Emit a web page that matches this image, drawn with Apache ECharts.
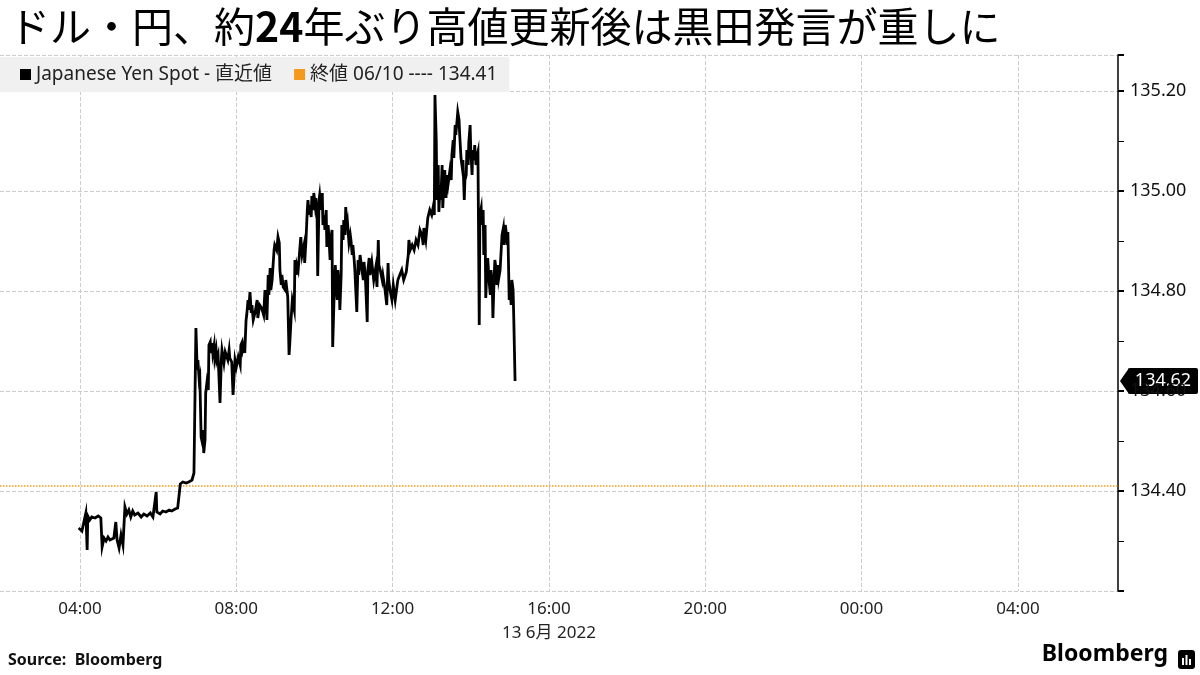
<!DOCTYPE html>
<html>
<head>
<meta charset="utf-8">
<script src="https://cdn.jsdelivr.net/npm/echarts@6/dist/echarts.min.js"></script>
<style>
html,body{margin:0;padding:0;background:#fff;}
#chart{width:1200px;height:675px;}
</style>
</head>
<body>
<div id="chart"></div>
<script>
// ---- data (minutes since 00:00 on 13 Jun 2022, USD/JPY spot) ----
const minuteOfDay = [238,243,246,249,251,252,255,258,263,268,272,274,277,280,283,286,289,292,295,297,300,303,306,309,312,315,318,321,324,329,334,338,343,348,352,357,358,363,367,372,377,381,386,390,394,398,403,407,412,415,418,420,421,423,424,426,427,429,430,432,433,435,437,438,440,441,443,444,446,447,449,450,452,455,457,458,461,463,466,467,469,470,473,475,478,480,483,486,487,489,490,492,493,495,496,498,499,501,503,504,506,509,512,513,516,519,522,524,526,527,529,530,532,533,535,538,539,542,544,546,547,549,550,552,555,556,559,561,562,564,566,569,570,572,573,575,578,579,581,584,585,587,589,590,592,593,595,596,598,599,601,602,604,605,607,608,610,612,613,615,616,618,619,621,622,624,625,627,628,630,632,633,635,636,638,639,641,642,644,645,647,648,650,651,653,655,656,658,659,661,662,665,667,668,670,673,675,676,678,681,682,684,685,688,691,694,696,698,699,701,704,705,708,711,713,714,716,719,721,724,727,728,731,734,737,741,744,745,747,750,753,756,759,762,765,767,768,771,774,777,780,782,784,785,787,788,790,791,793,794,796,797,799,800,802,803,805,808,810,811,813,814,816,817,819,820,822,823,825,827,828,830,831,833,834,836,837,839,840,842,843,845,846,848,850,851,853,854,856,857,859,860,862,863,865,866,868,870,871,873,874,876,877,879,880,882,883,885,888,890,891,893,894,896,897,899,900,902,903,905,906,908];
const prices = [134.326,134.320,134.322,134.356,134.282,134.350,134.342,134.348,134.346,134.350,134.346,134.288,134.306,134.300,134.308,134.302,134.298,134.306,134.338,134.302,134.286,134.312,134.292,134.368,134.354,134.362,134.348,134.360,134.352,134.356,134.348,134.354,134.350,134.356,134.348,134.398,134.358,134.354,134.360,134.358,134.362,134.360,134.364,134.366,134.414,134.418,134.416,134.418,134.422,134.436,134.726,134.642,134.662,134.622,134.628,134.508,134.502,134.522,134.476,134.502,134.596,134.618,134.602,134.692,134.698,134.676,134.696,134.676,134.692,134.666,134.682,134.662,134.672,134.576,134.662,134.682,134.656,134.678,134.682,134.662,134.682,134.666,134.658,134.592,134.662,134.648,134.668,134.652,134.692,134.698,134.682,134.692,134.676,134.742,134.752,134.782,134.762,134.798,134.756,134.772,134.742,134.758,134.782,134.746,134.772,134.766,134.752,134.802,134.772,134.742,134.832,134.792,134.846,134.802,134.822,134.882,134.892,134.882,134.908,134.896,134.842,134.812,134.832,134.808,134.802,134.822,134.788,134.672,134.692,134.742,134.782,134.762,134.862,134.832,134.852,134.842,134.892,134.908,134.872,134.892,134.856,134.902,134.962,134.982,134.952,134.972,134.948,134.990,134.962,134.996,134.972,134.986,134.952,134.830,134.982,134.992,134.962,134.996,134.932,134.952,134.922,134.962,134.888,134.932,134.912,134.862,134.902,134.922,134.688,134.782,134.852,134.822,134.782,134.842,134.812,134.762,134.832,134.932,134.902,134.942,134.912,134.968,134.922,134.932,134.896,134.912,134.902,134.872,134.892,134.862,134.842,134.758,134.862,134.832,134.872,134.842,134.822,134.858,134.832,134.738,134.842,134.866,134.832,134.858,134.822,134.846,134.808,134.902,134.852,134.842,134.822,134.832,134.806,134.772,134.856,134.822,134.802,134.782,134.812,134.782,134.812,134.822,134.832,134.842,134.822,134.838,134.872,134.902,134.882,134.892,134.882,134.902,134.892,134.922,134.912,134.892,134.926,134.902,134.946,134.962,134.952,134.966,134.952,135.192,135.102,134.982,135.052,134.958,135.012,134.982,135.052,134.966,135.022,135.042,134.986,135.032,135.012,135.042,135.022,135.072,135.102,135.066,135.132,135.112,135.142,135.158,135.142,135.112,135.066,135.046,135.062,134.982,135.022,135.032,135.082,135.052,135.098,135.132,135.082,135.032,135.082,135.062,135.092,135.052,135.072,135.078,134.732,134.952,134.966,134.932,134.962,134.872,134.932,134.786,134.852,134.866,134.822,134.792,134.842,134.812,134.746,134.832,134.862,134.842,134.812,134.852,134.826,134.842,134.912,134.926,134.892,134.932,134.922,134.892,134.918,134.782,134.812,134.772,134.822,134.802,134.746,134.620];
const prevClose = 134.41;
const xTickMinutes = [240,480,720,960,1200,1440,1680];
const xTickLabels = ['04:00','08:00','12:00','16:00','20:00','00:00','04:00'];
const seriesName = 'Japanese Yen Spot - 直近値';
const closeName = '終値 06/10 ---- 134.41';
const titleParts = ['ドル・円、約', '24', '年ぶり高値更新後は黒田発言が重しに'];
const dateLabel = '13 6月 2022';
const sourceText = 'Source:  Bloomberg';

const lastPrice = prices[prices.length - 1];
const FONT = '"Noto Sans", "Noto Sans CJK JP", sans-serif';
const CJK = '"Noto Sans CJK JP", "Noto Sans", sans-serif';
const X_MIN = 117.2, X_MAX = 1833.7;

const chart = echarts.init(document.getElementById('chart'), null, {renderer: 'canvas'});
const option = {
  animation: false,
  backgroundColor: '#fff',
  title: {
    text: '{a|' + titleParts[0] + '}{b|' + titleParts[1] + '}{a|' + titleParts[2] + '}',
    left: 4, top: 1,
    textStyle: {
      rich: {
        a: {fontSize: 41, fontFamily: CJK, color: '#000', fontWeight: 'normal'},
        b: {fontSize: 41, fontFamily: CJK, color: '#000', fontWeight: 'bold'}
      }
    }
  },
  legend: {
    left: 0, top: 57,
    icon: 'rect', itemWidth: 11, itemHeight: 11, itemGap: 22,
    backgroundColor: '#f0f0f0',
    padding: [8, 12, 8, 20],
    textStyle: {fontSize: 19, color: '#222', fontFamily: FONT},
    data: [seriesName, closeName],
    selectedMode: false
  },
  grid: {left: 0, right: 82, top: 55, bottom: 84, containLabel: false},
  xAxis: {
    type: 'value',
    min: X_MIN, max: X_MAX,
    axisLine: {show: false},
    axisTick: {show: false, customValues: xTickMinutes},
    axisLabel: {
      customValues: xTickMinutes,
      formatter: function (v) { const i = xTickMinutes.indexOf(v); return i >= 0 ? xTickLabels[i] : ''; },
      fontSize: 17, color: '#222', fontFamily: FONT, margin: 10
    },
    splitLine: {show: true, lineStyle: {type: 'dashed', color: '#cccccc', width: 1}}
  },
  yAxis: {
    type: 'value', position: 'right',
    min: 134.2, max: 135.272, interval: 0.2,
    axisLine: {show: true, lineStyle: {color: '#000', width: 1.5}},
    axisTick: {show: true, length: 6, lineStyle: {color: '#000', width: 2}},
    minorTick: {show: true, splitNumber: 2, length: 6, lineStyle: {color: '#000', width: 1}},
    axisLabel: {
      showMaxLabel: false,
      formatter: function (v) { return (v < 134.25 || v > 135.25) ? '' : v.toFixed(2); },
      fontSize: 18, color: '#111', fontFamily: FONT, margin: 12
    },
    splitLine: {show: true, lineStyle: {type: 'dashed', color: '#cccccc', width: 1}}
  },
  series: [
    {
      name: seriesName,
      type: 'line',
      data: minuteOfDay.map((m, i) => [m, prices[i]]),
      showSymbol: false, symbol: 'none',
      lineStyle: {color: '#000', width: 2.8, join: 'miter'},
      itemStyle: {color: '#000'},
      z: 5
    },
    {
      name: closeName,
      type: 'line',
      data: [],
      itemStyle: {color: '#f39a1e'},
      lineStyle: {color: '#f39a1e'},
      markLine: {
        silent: true, symbol: 'none',
        lineStyle: {type: 'dotted', color: '#f39a1e', width: 1.5},
        label: {show: false},
        data: [{yAxis: prevClose}]
      }
    }
  ]
};
chart.setOption(option);

// last-price tag, date label under 16:00, footer
const yPix = chart.convertToPixel({yAxisIndex: 0}, lastPrice);
const xRight = chart.convertToPixel({xAxisIndex: 0}, X_MAX);
const x16 = chart.convertToPixel({xAxisIndex: 0}, xTickMinutes[3]);
chart.setOption({
  graphic: [
    {type: 'text', x: x16, y: 625, style: {text: dateLabel, font: '17px ' + FONT, fill: '#222', align: 'center'}},
    {type: 'text', left: 8, top: 652, style: {text: sourceText, font: 'bold 16px ' + FONT, fill: '#111'}},
    {type: 'text', right: 32, top: 643, style: {text: 'Bloomberg', font: 'bold 23px ' + FONT, fill: '#000'}},
    {type: 'group', z: 100, children: [
      {type: 'polygon', shape: {points: [[xRight + 2, yPix], [xRight + 11, yPix - 13], [xRight + 11, yPix + 13]]}, style: {fill: '#000'}},
      {type: 'rect', shape: {x: xRight + 10, y: yPix - 13, width: 70, height: 26, r: 2}, style: {fill: '#000'}},
      {type: 'text', x: xRight + 45, y: yPix, style: {text: lastPrice.toFixed(2), font: '18px ' + FONT, fill: '#fff', align: 'center', verticalAlign: 'middle'}}
    ]},
    {type: 'group', left: 9, top: 68, z: 100, children: [
      {type: 'rect', shape: {x: 0, y: 0, width: 6, height: 5}, style: {fill: 'none', stroke: '#888', lineWidth: 1}},
      {type: 'line', shape: {x1: 3, y1: 5, x2: 3, y2: 11}, style: {stroke: '#888', lineWidth: 1}}
    ]},
    {type: 'group', right: 5, top: 650, children: [
      {type: 'rect', shape: {x: 0, y: 0, width: 17, height: 19, r: 3}, style: {fill: '#000'}},
      {type: 'rect', shape: {x: 4, y: 8, width: 2, height: 7}, style: {fill: '#fff'}},
      {type: 'rect', shape: {x: 7.5, y: 5, width: 2, height: 10}, style: {fill: '#fff'}},
      {type: 'rect', shape: {x: 11, y: 9, width: 2, height: 6}, style: {fill: '#fff'}}
    ]}
  ]
});
</script>
</body>
</html>
